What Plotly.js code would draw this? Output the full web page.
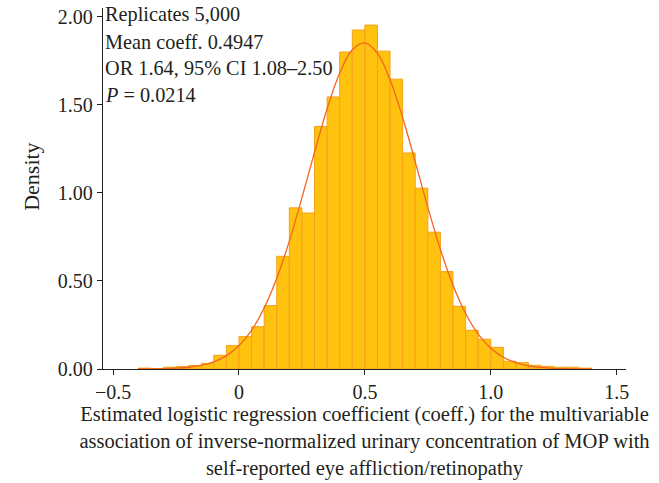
<!DOCTYPE html>
<html>
<head>
<meta charset="utf-8">
<script src="https://cdn.plot.ly/plotly-3.0.1.min.js"></script>
<style>html,body{margin:0;padding:0;background:#fff;}#chart{width:659px;height:483px;}</style>
</head>
<body>
<div id="chart"></div>
<script>
// Histogram bins (left edges, width 0.05) and densities
const binLeft = [-0.40,-0.35,-0.30,-0.25,-0.20,-0.15,-0.10,-0.05,0.00,0.05,0.10,0.15,0.20,0.25,0.30,0.35,0.40,0.45,0.50,0.55,0.60,0.65,0.70,0.75,0.80,0.85,0.90,0.95,1.00,1.05,1.10,1.15,1.20,1.25,1.30,1.35];
const binDensity = [0.005,0.003,0.010,0.014,0.020,0.032,0.078,0.133,0.184,0.240,0.360,0.640,0.915,0.886,1.377,1.545,1.800,1.925,1.953,1.805,1.646,1.227,1.027,0.777,0.553,0.356,0.220,0.169,0.123,0.044,0.036,0.021,0.015,0.010,0.010,0.005];
const binWidth = 0.05;

// Fitted density curve
const curveX = [-0.40,-0.35,-0.30,-0.25,-0.20,-0.15,-0.10,-0.05,0.00,0.05,0.10,0.15,0.20,0.25,0.30,0.35,0.40,0.45,0.50,0.55,0.60,0.65,0.70,0.75,0.80,0.85,0.90,0.95,1.00,1.05,1.10,1.15,1.20,1.25,1.30,1.35,1.40];
const curveY = [0.0003,0.0008,0.002,0.005,0.010,0.021,0.041,0.076,0.132,0.220,0.346,0.515,0.726,0.972,1.231,1.478,1.681,1.813,1.852,1.792,1.643,1.428,1.176,0.918,0.679,0.475,0.315,0.198,0.118,0.067,0.036,0.018,0.009,0.004,0.0017,0.0007,0.0003];

const xTickVals = [-0.5, 0, 0.5, 1.0, 1.5];
const xTickText = ["\u22120.5", "0", "0.5", "1.0", "1.5"];
const yTickVals = [0, 0.5, 1.0, 1.5, 2.0];
const yTickText = ["0.00", "0.50", "1.00", "1.50", "2.00"];

const statLines = ["Replicates 5,000", "Mean coeff. 0.4947", "OR 1.64, 95% CI 1.08\u20132.50", "<i>P</i> = 0.0214"];
const xTitle = "Estimated logistic regression coefficient (coeff.) for the multivariable<br>association of inverse-normalized urinary concentration of MOP with<br>self-reported eye affliction/retinopathy";
const yTitle = "Density";

const FONT = "Liberation Serif, Times New Roman, serif";
const INK = "#231f20";

const barX = binLeft.map(v => v + binWidth / 2);

const traces = [
  {
    type: "bar",
    x: barX,
    y: binDensity,
    width: binWidth,
    marker: {color: "#FFC20F", line: {color: "#F7A11A", width: 1}},
    hoverinfo: "skip"
  },
  {
    type: "scatter",
    mode: "lines",
    x: curveX,
    y: curveY,
    line: {color: "#F26522", width: 1.3, shape: "spline"},
    hoverinfo: "skip"
  }
];

const annotations = statLines.map((t, i) => ({
  text: t,
  xref: "paper", yref: "paper",
  x: 0.0, y: 0.981 - i * 0.074,
  xanchor: "left", yanchor: "middle",
  showarrow: false,
  font: {family: FONT, size: 20.3, color: INK}
}));

annotations.push({
  text: yTitle,
  xref: "paper", yref: "paper",
  x: -0.136, y: 0.532,
  xanchor: "center", yanchor: "middle",
  textangle: -90,
  showarrow: false,
  font: {family: FONT, size: 22, color: INK}
});

const layout = {
  width: 659, height: 483,
  margin: {l: 103, r: 33, t: 8, b: 114},
  paper_bgcolor: "#fff", plot_bgcolor: "#fff",
  showlegend: false,
  bargap: 0,
  font: {family: FONT, color: INK},
  xaxis: {
    range: [-0.54, 1.537],
    tickvals: xTickVals, ticktext: xTickText,
    ticks: "outside", ticklen: 5, tickwidth: 1, tickcolor: INK,
    showline: true, linecolor: INK, linewidth: 1.3,
    showgrid: false, zeroline: false,
    tickfont: {family: FONT, size: 20, color: INK},
    title: {text: xTitle, font: {family: FONT, size: 20.5, color: INK}, standoff: 4}
  },
  yaxis: {
    range: [0, 2.05],
    tickvals: yTickVals, ticktext: yTickText,
    ticks: "outside", ticklen: 5, tickwidth: 1, tickcolor: INK,
    showline: true, linecolor: INK, linewidth: 1.3,
    showgrid: false, zeroline: false,
    tickfont: {family: FONT, size: 20, color: INK}
  },
  annotations: annotations
};

Plotly.newPlot("chart", traces, layout, {displayModeBar: false, staticPlot: true});
</script>
</body>
</html>
